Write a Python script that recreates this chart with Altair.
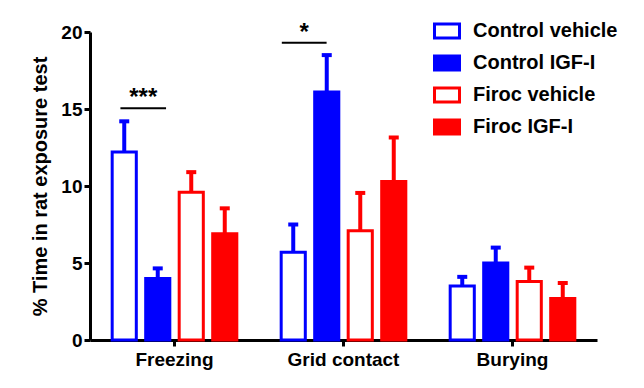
import altair as alt
import pandas as pd

categories = ["Freezing", "Grid contact", "Burying"]
series = ["Control vehicle", "Control IGF-I", "Firoc vehicle", "Firoc IGF-I"]

# mean values per series (Freezing, Grid contact, Burying)
control_vehicle_mean = [12.2, 5.7, 3.5]
control_igf_mean = [4.0, 16.1, 5.0]
firoc_vehicle_mean = [9.6, 7.1, 3.8]
firoc_igf_mean = [6.9, 10.3, 2.7]

# upper end of error bar (mean + SEM)
control_vehicle_upper = [14.2, 7.5, 4.1]
control_igf_upper = [4.65, 18.5, 6.0]
firoc_vehicle_upper = [10.9, 9.55, 4.7]
firoc_igf_upper = [8.55, 13.15, 3.7]

# significance annotations
sig_labels = ["***", "*"]
sig_x1 = [0.18, 1.135]
sig_x2 = [0.45, 1.40]
sig_y = [15.05, 19.3]

stroke_colors = ["#0000FF", "#0000FF", "#FF0000", "#FF0000"]
fill_colors = ["#FFFFFF", "#0000FF", "#FFFFFF", "#FF0000"]

means = [control_vehicle_mean, control_igf_mean, firoc_vehicle_mean, firoc_igf_mean]
uppers = [control_vehicle_upper, control_igf_upper, firoc_vehicle_upper, firoc_igf_upper]

rows = []
for s, m, u in zip(series, means, uppers):
    for c, mv, uv in zip(categories, m, u):
        rows.append({"category": c, "series": s, "mean": mv, "upper": uv})
df = pd.DataFrame(rows)

sig_df = pd.DataFrame({"label": sig_labels, "x1": sig_x1, "x2": sig_x2, "y": sig_y,
                       "xm": [(a + b) / 2 for a, b in zip(sig_x1, sig_x2)]})

YTITLE = "% Time in rat exposure test"
yscale = alt.Scale(domain=[0, 20], nice=False)

xenc = alt.X("category:N", sort=categories,
             scale=alt.Scale(paddingInner=0.207, paddingOuter=0.1035),
             axis=alt.Axis(title=None, labelAngle=0, labelPadding=4))
xoff = alt.XOffset("series:N", sort=series,
                   scale=alt.Scale(paddingInner=0.28, paddingOuter=0.14))

legend = alt.Legend(title=None, orient="none", legendX=343, legendY=-15,
                    symbolType="M-1,-0.56H1V0.56H-1Z", symbolSize=625,
                    symbolStrokeWidth=3, labelFontSize=20, labelFontWeight="bold",
                    labelFont="Liberation Sans", labelColor="black",
                    labelOffset=12, rowPadding=5, padding=0, symbolOpacity=1)

bars = alt.Chart(df).mark_bar(strokeWidth=3, opacity=1).encode(
    x=xenc,
    xOffset=xoff,
    y=alt.Y("mean:Q", scale=yscale, title=YTITLE,
            axis=alt.Axis(values=[0, 5, 10, 15, 20], titlePadding=10)),
    fill=alt.Fill("series:N", sort=series,
                  scale=alt.Scale(domain=series, range=fill_colors), legend=legend),
    stroke=alt.Stroke("series:N", sort=series,
                      scale=alt.Scale(domain=series, range=stroke_colors), legend=legend),
)

err = alt.Chart(df).mark_rule(strokeWidth=4, opacity=1).encode(
    x=xenc,
    xOffset=xoff,
    y=alt.Y("mean:Q", scale=yscale, title=YTITLE),
    y2="upper:Q",
    color=alt.Color("series:N", sort=series,
                    scale=alt.Scale(domain=series, range=stroke_colors), legend=None),
)

caps = alt.Chart(df).mark_tick(thickness=4, size=10, opacity=1).encode(
    x=xenc,
    xOffset=xoff,
    y=alt.Y("upper:Q", scale=yscale, title=YTITLE),
    color=alt.Color("series:N", sort=series,
                    scale=alt.Scale(domain=series, range=stroke_colors), legend=None),
)

xq = alt.Scale(domain=[0, 3], nice=False, zero=False)
sig_lines = alt.Chart(sig_df).mark_rule(strokeWidth=2, color="black").encode(
    x=alt.X("x1:Q", scale=xq, axis=None),
    x2="x2:Q",
    y=alt.Y("y:Q", scale=yscale, title=YTITLE),
)
sig_text = alt.Chart(sig_df).mark_text(fontSize=24, fontWeight="bold", font="Liberation Sans",
                                       baseline="alphabetic", dy=-3, color="black").encode(
    x=alt.X("xm:Q", scale=xq, axis=None),
    y=alt.Y("y:Q", scale=yscale, title=YTITLE),
    text="label:N",
)

base = alt.layer(bars, err, caps).resolve_scale(color="independent")
chart = alt.layer(base, sig_lines, sig_text).resolve_scale(x="independent").properties(
    width=507, height=308,
    autosize=alt.AutoSizeParams(type="none"),
    padding={"left": 82, "top": 24, "right": 30, "bottom": 36},
    background="white",
).configure_view(stroke=None).configure_axis(
    grid=False, domainColor="black", domainWidth=3, tickColor="black", tickWidth=3,
    tickSize=6, labelFont="Liberation Sans", labelFontWeight="bold", labelFontSize=19,
    labelColor="black", titleFont="Liberation Sans", titleFontWeight="bold",
    titleFontSize=20, titleColor="black",
)

chart.save("out.html", embed_options={"renderer": "svg", "actions": False})
